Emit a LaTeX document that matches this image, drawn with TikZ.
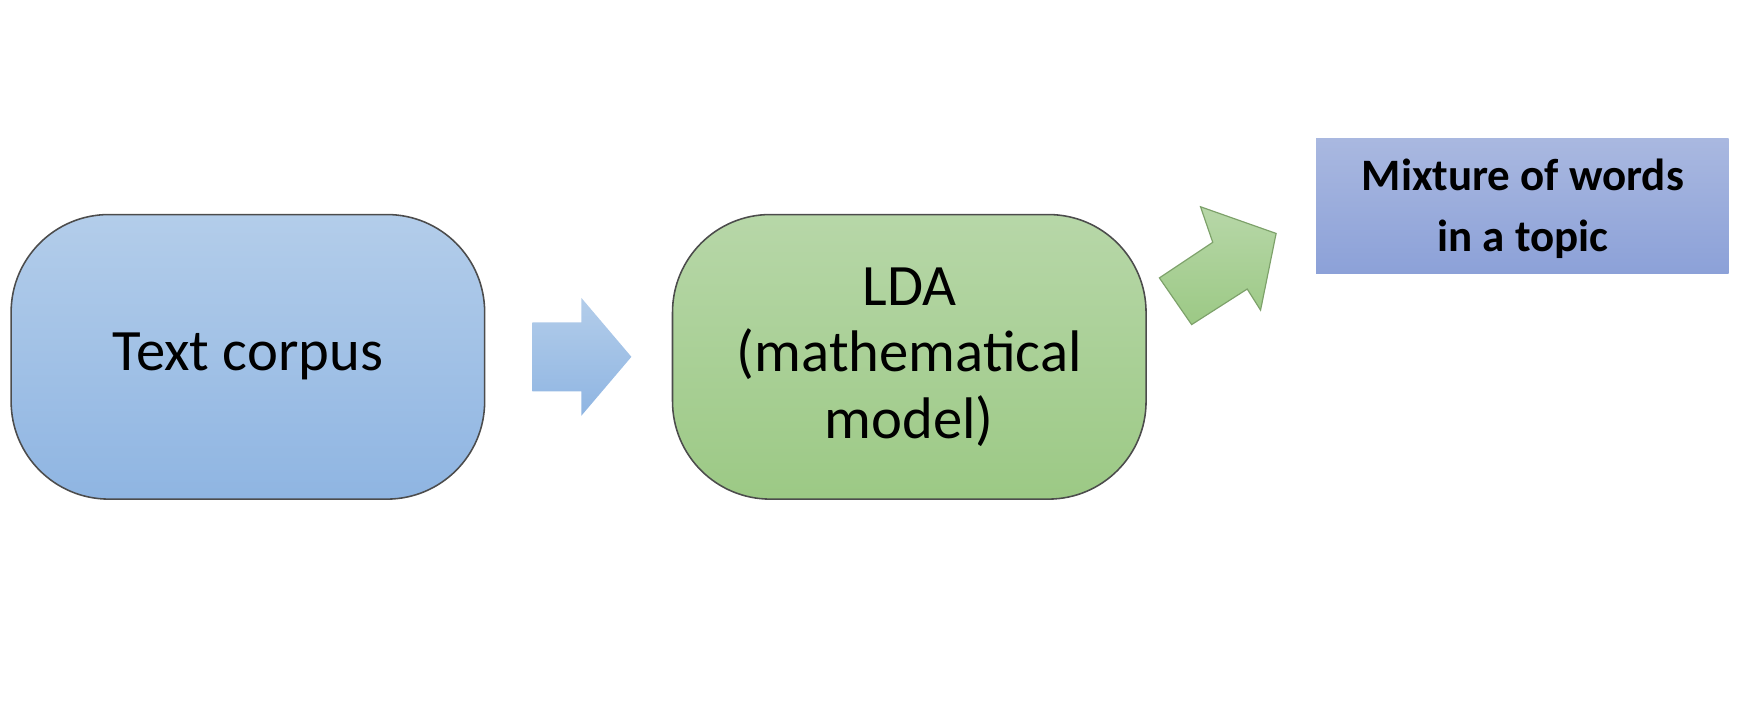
\documentclass[tikz,border=0pt]{standalone}
\usepackage{fontspec}
\setmainfont{Carlito}
\usepackage{color}

\definecolor{blueTop}{HTML}{B3CDEA}
\definecolor{blueBot}{HTML}{8FB5E2}
\definecolor{greenTop}{HTML}{B7D7A8}
\definecolor{greenBot}{HTML}{9CC985}
\definecolor{violetTop}{HTML}{A9B8E0}
\definecolor{violetBot}{HTML}{8CA1D8}

\begin{document}
\begin{tikzpicture}[%
      x=0.01cm, y=-0.01cm,
      box/.style={draw=black!70, line width=0.4pt, rounded corners=25},
      label/.style={font=\fontsize{15pt}{17pt}\selectfont, align=center},
      ]
      \useasboundingbox (0,0) rectangle (1568,642);

      \shade [box, top color=blueTop, bottom color=blueBot] (10,193) rectangle (436,449);
      \shade [box, top color=greenTop, bottom color=greenBot] (605,193) rectangle (1031,449);
      \shade [top color=violetTop, bottom color=violetBot] (1184,125) rectangle (1555,246);

      \shade [top color=blueTop, bottom color=blueBot]
        (479,290) -- (523,290) -- (523,268) -- (568,321) -- (523,374) -- (523,352) -- (479,352) -- cycle;
      \shade [draw=greenBot!80!black, line width=0.3pt, top color=greenTop, bottom color=greenBot]
        (1043,250) -- (1091,218) -- (1080,186) -- (1148,210) -- (1134,279) -- (1122,260) -- (1072,292) -- cycle;

      \node [label] (corpus) at (223,321) {Text corpus};
      \node [label] (lda) at (818,321) {LDA\\(mathematical\\model)};
      \node [font=\fontsize{11.5pt}{15.5pt}\selectfont\bfseries, align=center] (topic) at (1370,188) {Mixture of words\\in a topic};
\end{tikzpicture}
\end{document}
